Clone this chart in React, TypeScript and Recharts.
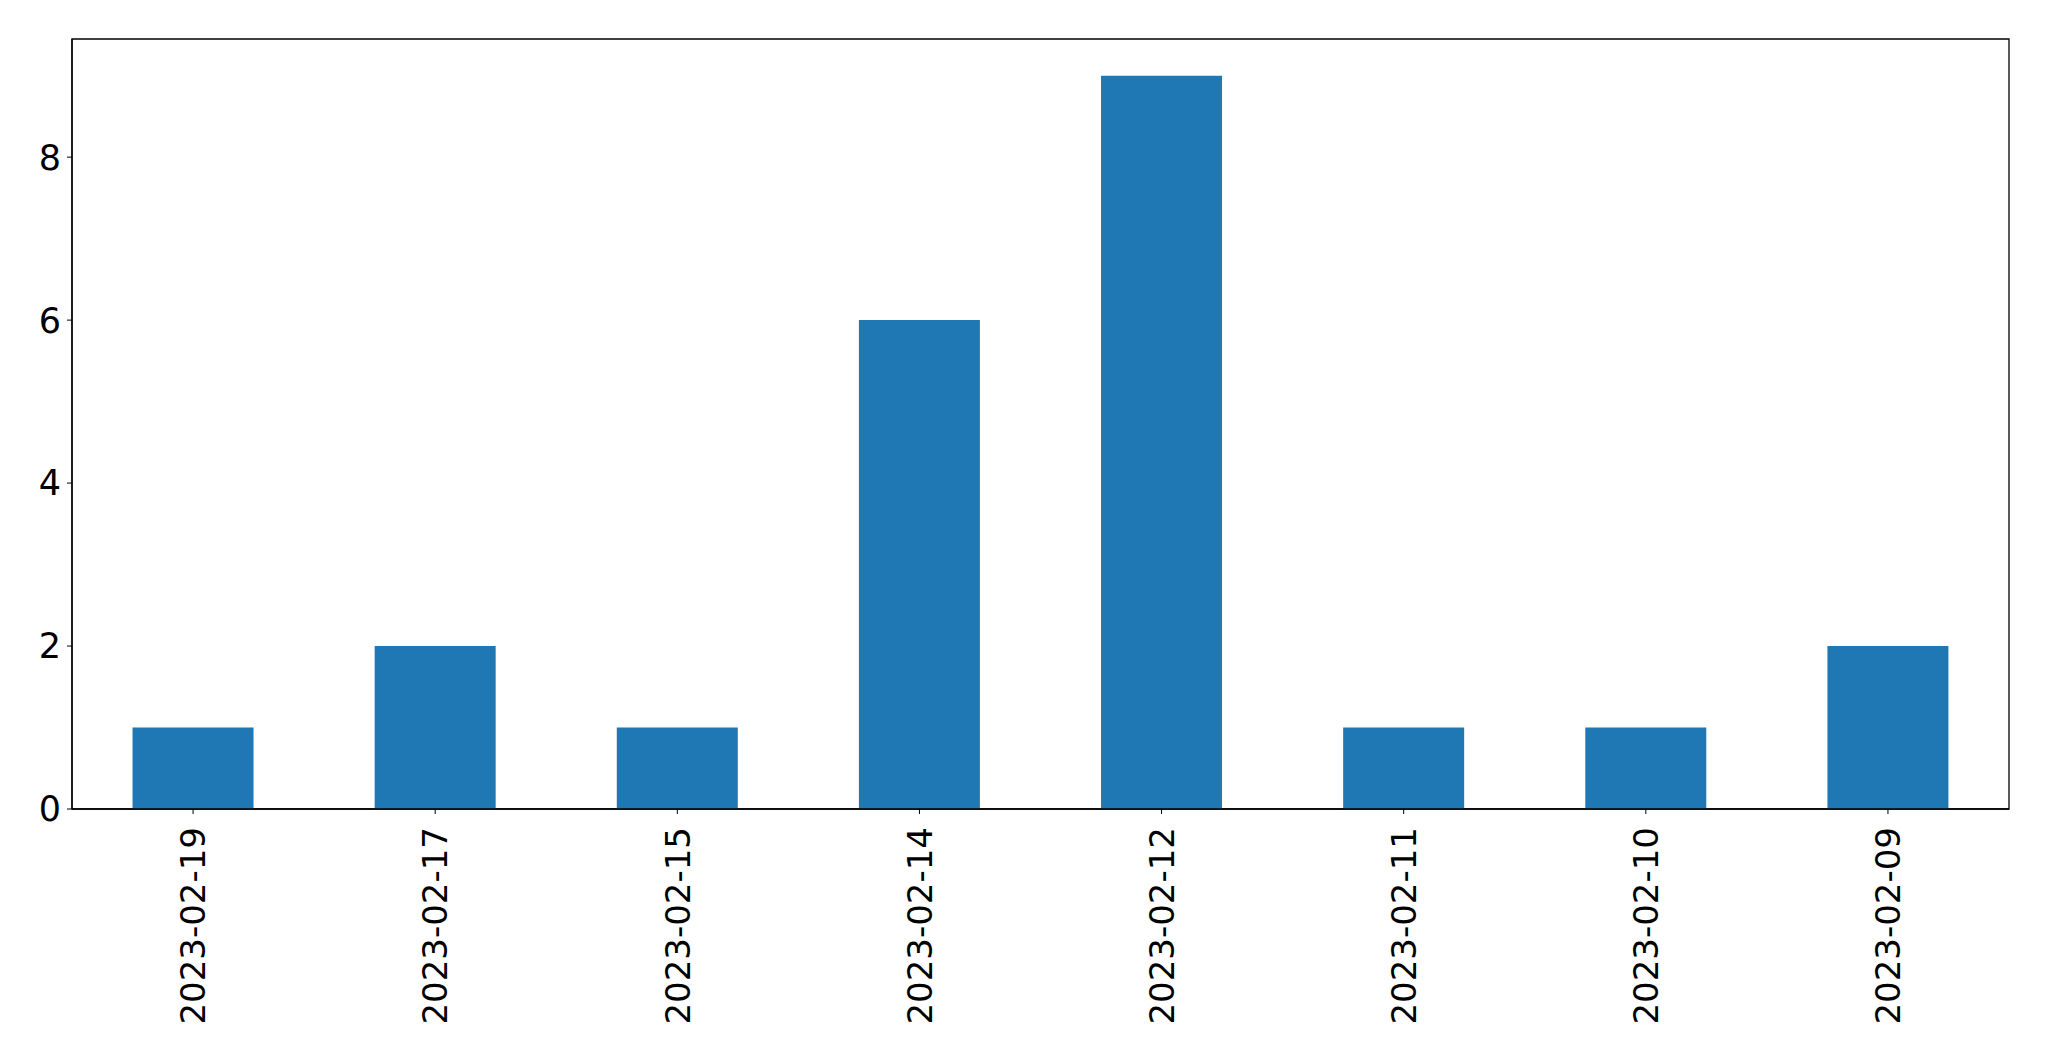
import { BarChart, Bar, XAxis, YAxis, ReferenceArea } from "recharts";

const dates = [
    "2023-02-19",
    "2023-02-17",
    "2023-02-15",
    "2023-02-14",
    "2023-02-12",
    "2023-02-11",
    "2023-02-10",
    "2023-02-09",
];
const counts = [1, 2, 1, 6, 9, 1, 1, 2];
const yTicks = [0, 2, 4, 6, 8];
const yMax = 9.45;

const data = dates.map((d, i) => ({ date: d, count: counts[i] }));

const FONT = "DejaVu Sans";

function RotatedTick(props: any) {
    const { x, y, payload } = props;
    return (
        <g transform={`translate(${x},${y})`}>
            <text
                transform="rotate(-90)"
                textAnchor="end"
                dy="0.36em"
                fontSize={34}
                fontFamily={FONT}
                fill="#000"
            >
                {payload.value}
            </text>
        </g>
    );
}

export default function App() {
    return (
        <div style={{ position: "absolute", left: 0, top: 0, background: "#fff" }}>
            <BarChart
                width={2049}
                height={1061}
                data={data}
                margin={{ top: 39, right: 40, left: 0, bottom: 0 }}
                barCategoryGap="25%"
            >
                <XAxis
                    dataKey="date"
                    height={252}
                    interval={0}
                    tick={<RotatedTick />}
                    tickSize={5}
                    tickMargin={13}
                    axisLine={{ stroke: "#000", strokeWidth: 1.3 }}
                    tickLine={{ stroke: "#000" }}
                />
                <YAxis
                    domain={[0, yMax]}
                    ticks={yTicks}
                    width={72}
                    tickSize={5}
                    tickMargin={6}
                    allowDataOverflow
                    tick={{ fontSize: 35, fontFamily: FONT, fill: "#000" }}
                    axisLine={{ stroke: "#000", strokeWidth: 1.3 }}
                    tickLine={{ stroke: "#000" }}
                />
                <Bar dataKey="count" fill="#1f77b4" isAnimationActive={false} />
                <ReferenceArea
                    y1={0}
                    y2={yMax}
                    fill="none"
                    fillOpacity={0}
                    stroke="#000"
                    strokeWidth={1.3}
                    ifOverflow="visible"
                />
            </BarChart>
        </div>
    );
}
